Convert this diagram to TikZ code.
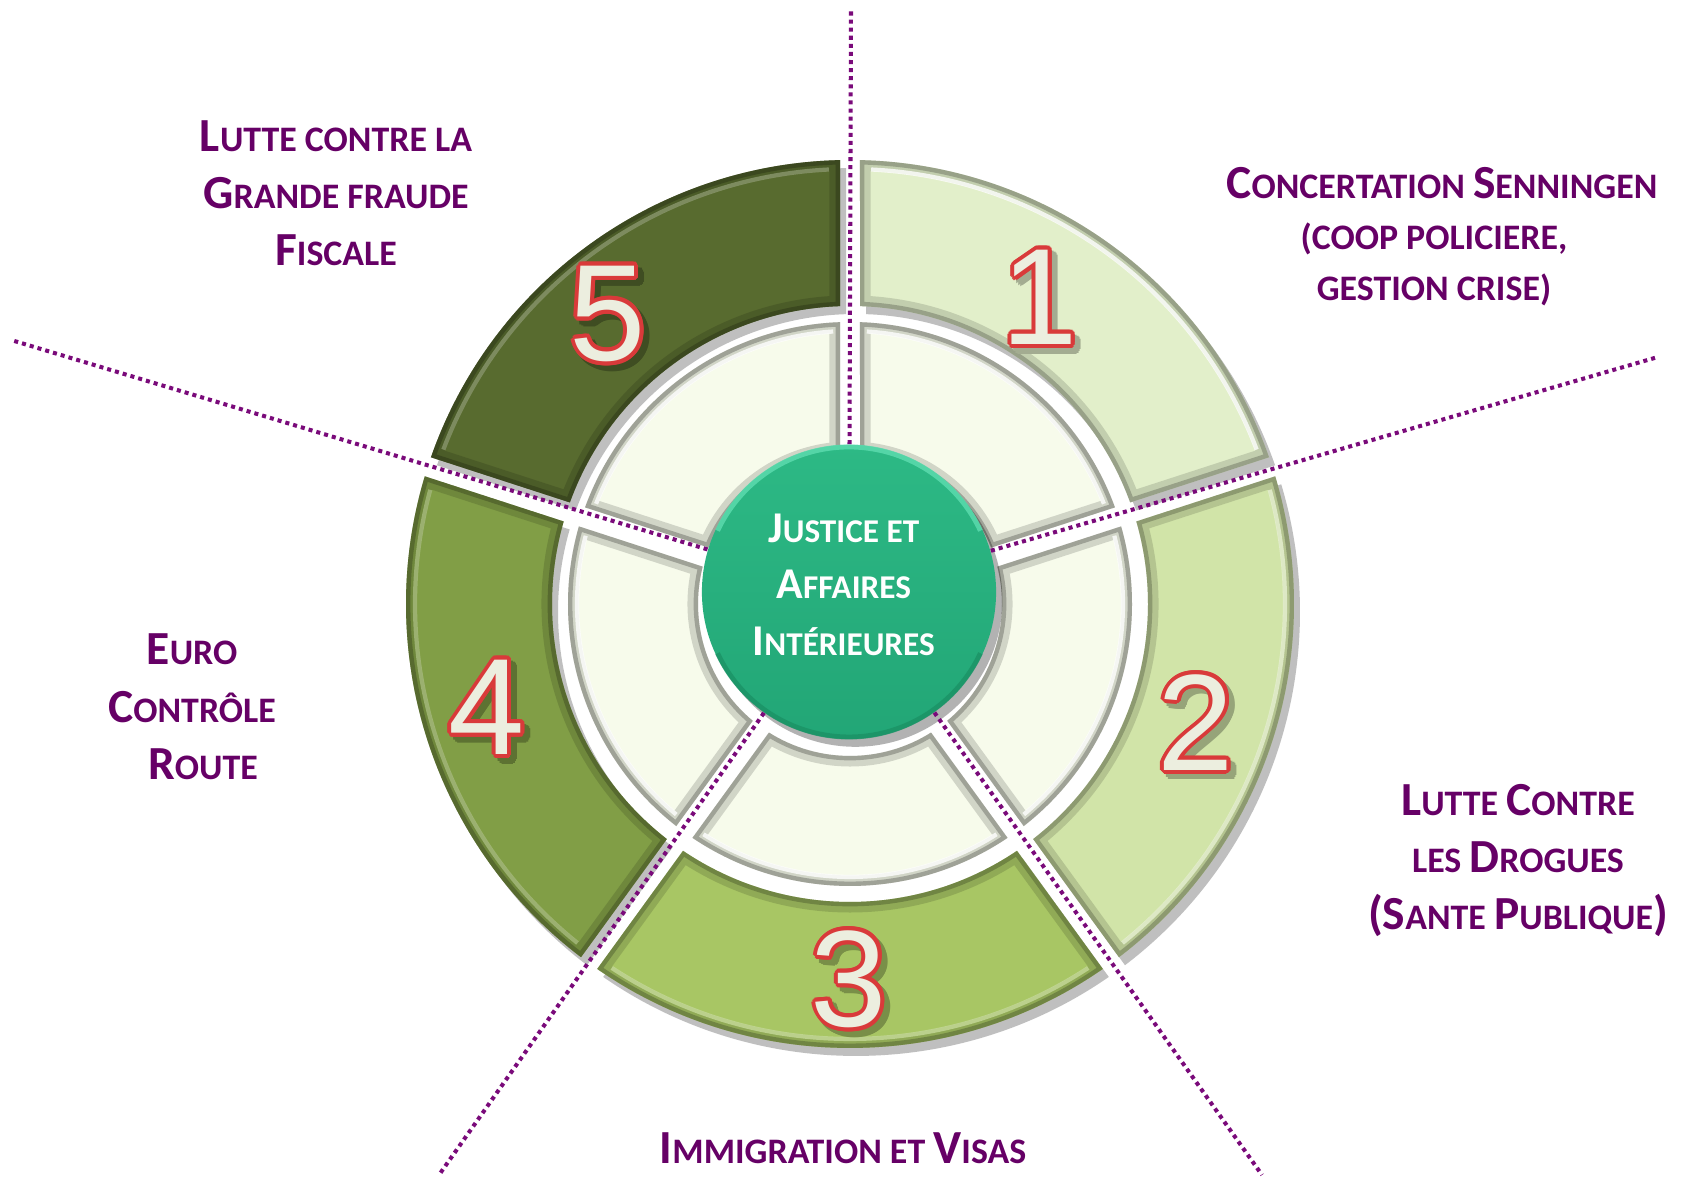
\documentclass[tikz,border=0pt]{standalone}
\usepackage{fontspec}
\newfontfamily\labfont{Carlito}
\newfontfamily\digfont{Liberation Sans}
\usetikzlibrary{shadows}
\definecolor{labpurple}{RGB}{102,0,102}
\definecolor{dotpurple}{RGB}{122,10,122}
\definecolor{sA}{HTML}{E2EFCA}
\definecolor{sB}{HTML}{D1E4A8}
\definecolor{sC}{HTML}{A8C664}
\definecolor{sD}{HTML}{819E46}
\definecolor{sE}{HTML}{586B2F}
\definecolor{inn}{HTML}{F7FBEB}
\definecolor{ctrtop}{HTML}{2DB985}
\definecolor{ctrbot}{HTML}{22A676}
\definecolor{ctrhl}{HTML}{5EDDB0}
\definecolor{ctrdk}{HTML}{1A8F63}
\definecolor{numred}{HTML}{D93A3A}
\definecolor{numfill}{HTML}{ECEEDF}
\newcommand\Bl[1]{{\fontsize{13.5}{16}\selectfont #1}}
\newcommand\Bc[1]{{\fontsize{12.5}{15}\selectfont #1}}
\newcommand\bignum[2]{%
  \foreach \a in {0,30,...,330}{\pgfmathsetmacro\dx{1.6+1.15*cos(\a)}\pgfmathsetmacro\dy{-1.6+1.15*sin(\a)}\rlap{\kern\dx pt\raisebox{\dy pt}{\textcolor{#2}{#1}}}}%
  \foreach \a in {0,22.5,...,337.5}{\pgfmathsetmacro\dx{1.15*cos(\a)}\pgfmathsetmacro\dy{1.15*sin(\a)}\rlap{\kern\dx pt\raisebox{\dy pt}{\textcolor{numred}{#1}}}}%
  \textcolor{numfill}{#1}}
\newcommand\sgcalc[4]{%
  \pgfmathsetmacro\sgao{asin(10/#4)}%
  \pgfmathsetmacro\sgai{asin(10/#3)}%
  \pgfmathsetmacro\sgsa{#1+\sgao}%
  \pgfmathsetmacro\sgea{#2-\sgao}%
  \pgfmathsetmacro\sgsb{#2-\sgai}%
  \pgfmathsetmacro\sgeb{#1+\sgai}%
  \pgfmathsetmacro\sghr{#4-9}%
  \pgfmathsetmacro\sghsa{\sgsa+1.5}%
  \pgfmathsetmacro\sghea{\sgea-1.5}}
\newcommand\segshadow[4]{%
  \sgcalc{#1}{#2}{#3}{#4}%
  \begin{scope}[shift={(6,-8)}]
    \fill[black!25] (\sgsa:#4) arc[start angle=\sgsa,end angle=\sgea,radius=#4] -- (\sgsb:#3) arc[start angle=\sgsb,end angle=\sgeb,radius=#3] -- cycle;
  \end{scope}}
\newcommand\ringseg[7]{%
  \sgcalc{#1}{#2}{#3}{#4}%
  \fill[#5] (\sgsa:#4) arc[start angle=\sgsa,end angle=\sgea,radius=#4] -- (\sgsb:#3) arc[start angle=\sgsb,end angle=\sgeb,radius=#3] -- cycle;
  \begin{scope}
    \clip (\sgsa:#4) arc[start angle=\sgsa,end angle=\sgea,radius=#4] -- (\sgsb:#3) arc[start angle=\sgsb,end angle=\sgeb,radius=#3] -- cycle;
    \draw[#6, line width=6pt, opacity=.25] (\sgsa:#4) arc[start angle=\sgsa,end angle=\sgea,radius=#4] -- (\sgsb:#3) arc[start angle=\sgsb,end angle=\sgeb,radius=#3] -- cycle;
    \draw[#6, line width=2.5pt, opacity=.45] (\sgsa:#4) arc[start angle=\sgsa,end angle=\sgea,radius=#4] -- (\sgsb:#3) arc[start angle=\sgsb,end angle=\sgeb,radius=#3] -- cycle;
    \draw[#7, line width=1.2pt, opacity=.8] (\sghsa:\sghr) arc[start angle=\sghsa,end angle=\sghea,radius=\sghr];
  \end{scope}}
\tikzset{
  dotline/.style={draw=dotpurple, line width=1.15pt, dash pattern=on 1.15pt off 1.15pt},
  lab/.style={inner sep=0pt, anchor=base, text=labpurple, font=\labfont\bfseries},
  numnode/.style={inner sep=0pt, font=\digfont\fontsize{39}{39}\selectfont},
}
\begin{document}
\begin{tikzpicture}[x=0.01cm,y=0.01cm]
\fill[white] (0,0) rectangle (1696,1180);
\useasboundingbox (0,0) rectangle (1696,1180);
% rings
\begin{scope}[shift={(850,576)}]
  \segshadow{18}{90}{298}{444}
  \segshadow{90}{162}{298}{444}
  \segshadow{162}{234}{298}{444}
  \segshadow{234}{306}{298}{444}
  \segshadow{306}{378}{298}{444}
  \ringseg{18}{90}{298}{444}{sA}{sA!45!black}{white}
  \ringseg{90}{162}{298}{444}{sE}{sE!45!black}{sE!70!white}
  \ringseg{162}{234}{298}{444}{sD}{sD!45!black}{sD!70!white}
  \ringseg{234}{306}{298}{444}{sC}{sC!45!black}{sC!65!white}
  \ringseg{306}{378}{298}{444}{sB}{sB!45!black}{sB!50!white}
  \ringseg{18}{90}{152}{282}{inn}{inn!40!black}{white}
  \ringseg{90}{162}{152}{282}{inn}{inn!40!black}{white}
  \ringseg{162}{234}{152}{282}{inn}{inn!40!black}{white}
  \ringseg{234}{306}{152}{282}{inn}{inn!40!black}{white}
  \ringseg{306}{378}{152}{282}{inn}{inn!40!black}{white}
\end{scope}
% centre
\node[circle, inner sep=0pt, minimum size=2.94cm, top color=ctrtop, bottom color=ctrbot,
      drop shadow={shadow xshift=1.8pt, shadow yshift=-2.2pt, opacity=.3, fill=black},
      text=white, text height=22pt, text depth=20pt,
      font=\labfont\bfseries\fontsize{9.45}{16.2}\selectfont] (c) at (849,588)
  {\begin{tabular}{@{}c@{}}\Bc{J}USTICE ET\hspace*{3pt}\\\Bc{A}FFAIRES\hspace*{3pt}\\\Bc{I}NTÉRIEURES\hspace*{3pt}\end{tabular}};
\draw[ctrhl, line width=1.4pt, opacity=.8] (c.center) ++(25:145) arc[start angle=25,end angle=155,radius=145];
\draw[ctrdk, line width=1.4pt, opacity=.7] (c.center) ++(205:145) arc[start angle=205,end angle=335,radius=145];
% dotted dividers
\coordinate (eT) at (851,1169);
\coordinate (eR) at (1658,823);
\coordinate (eBR) at (1262,5);
\coordinate (eBL) at (439,5);
\coordinate (eL) at (11,840);
\draw[dotline] (c) -- (eT);
\draw[dotline] (c) -- (eR);
\draw[dotline] (c) -- (eBR);
\draw[dotline] (c) -- (eBL);
\draw[dotline] (c) -- (eL);
% numbers
\node[numnode] (n1) at (1040,880) {\bignum{1}{sA!72!black}};
\node[numnode] (n2) at (1196,455) {\bignum{2}{sB!72!black}};
\node[numnode] (n3) at (849,198) {\bignum{3}{sC!72!black}};
\node[numnode] (n4) at (487,470) {\bignum{4}{sD!72!black}};
\node[numnode] (n5) at (608,863) {\bignum{5}{sE!72!black}};
% labels
\node[lab] (l5) at (336,1028) {\fontsize{10.2}{16.1}\selectfont\begin{tabular}[t]{@{}c@{}}\Bl{L}UTTE CONTRE LA\\\Bl{G}RANDE FRAUDE\\\Bl{F}ISCALE\end{tabular}};
\node[lab] (l1) at (1434,981) {\fontsize{10.2}{14.5}\selectfont\begin{tabular}[t]{@{}c@{}}\hspace*{4.5pt}\Bl{C}ONCERTATION \Bl{S}ENNINGEN\\(COOP POLICIERE,\\GESTION CRISE)\end{tabular}};
\node[lab] (l2) at (1518,364) {\fontsize{10.2}{16.2}\selectfont\begin{tabular}[t]{@{}c@{}}\Bl{L}UTTE \Bl{C}ONTRE\\LES \Bl{D}ROGUES\\\Bl{(S}ANTE \Bl{P}UBLIQUE\Bl{)}\end{tabular}};
\node[lab] (l3) at (843,16) {\fontsize{10.2}{16.2}\selectfont\Bl{I}MMIGRATION ET \Bl{V}ISAS};
\node[lab] (l4) at (192,515) {\fontsize{10.2}{16.3}\selectfont\begin{tabular}[t]{@{}c@{}}\Bl{E}URO\\\Bl{C}ONTRÔLE\\\hspace*{6.3pt}\Bl{R}OUTE\end{tabular}};
\end{tikzpicture}
\end{document}
